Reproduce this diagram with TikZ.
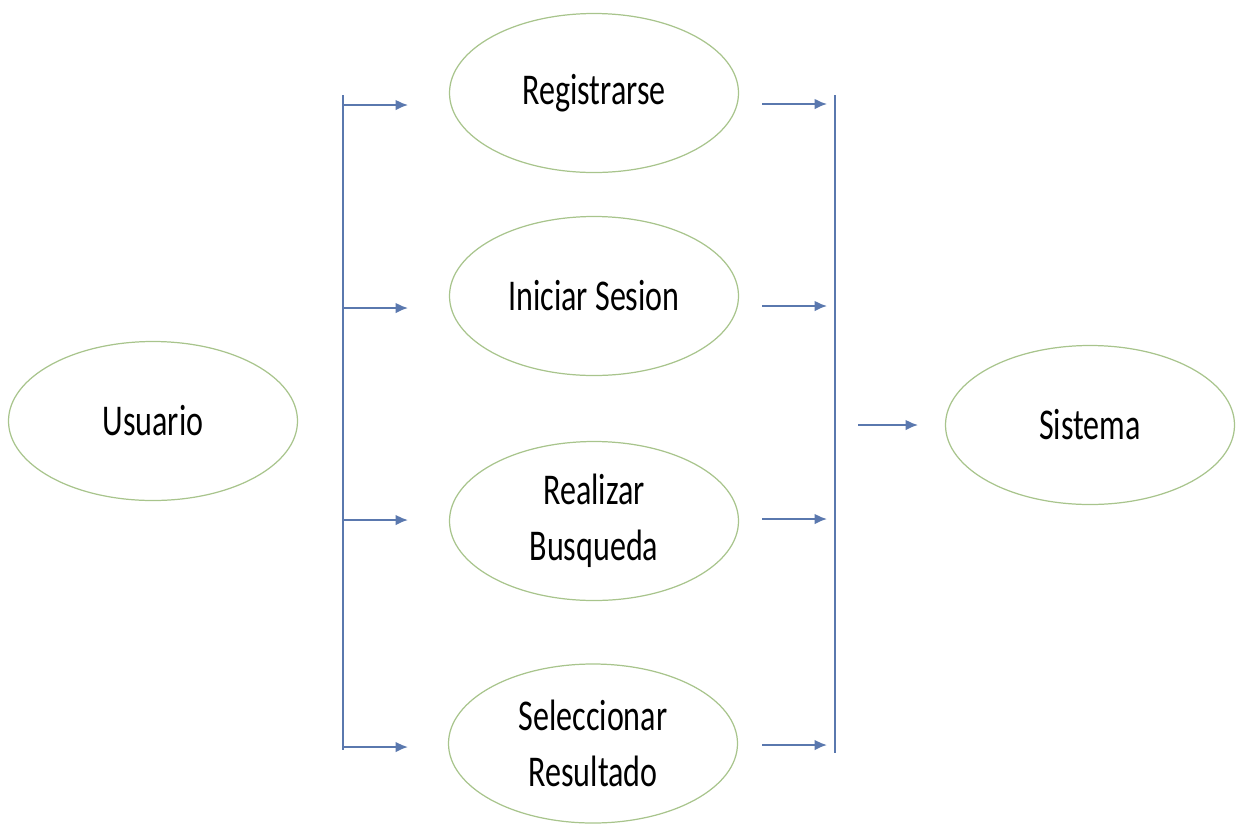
\documentclass[tikz,border=0pt]{standalone}
\usepackage{fontspec}
\setmainfont[FakeStretch=0.73]{Carlito}
\usetikzlibrary{shapes.geometric}
\usetikzlibrary{arrows.meta}
\definecolor{ovalgreen}{HTML}{A8C48C}
\definecolor{flowblue}{HTML}{5A78AE}
\tikzset{
    usecase/.style = {ellipse, draw=ovalgreen, line width=0.7pt, align=center, minimum width=5.78cm, minimum height=3.18cm, inner sep=0pt, font=\fontsize{25}{32}\selectfont},
    flow/.style = {-{Latex[length=7pt,width=6pt]}, line width=1.1pt, flowblue},
    bar/.style = {line width=0.9pt, flowblue}
}
\begin{document}
\begin{tikzpicture}
  \useasboundingbox (0,0) rectangle (24.76,-16.5);
  % actors
  \node[usecase] (usuario) at (3.06,-8.42) {Usuario};
  \node[usecase] (sistema) at (21.8,-8.5) {Sistema};
  % use cases
  \node[usecase] (registro) at (11.88,-1.86) {Registrarse};
  \node[usecase] (sesion) at (11.88,-5.92) {Iniciar Sesion};
  \node[usecase] (busqueda) at (11.88,-10.42) {Realizar\\Busqueda};
  \node[usecase] (resultado) at (11.86,-14.87) {Seleccionar\\Resultado};
  % bars
  \coordinate (ltop) at (6.86,-1.9);
  \coordinate (lbot) at (6.86,-15.0);
  \coordinate (rtop) at (16.7,-1.9);
  \coordinate (rbot) at (16.7,-15.06);
  \draw[bar] (ltop) -- (lbot);
  \draw[bar] (rtop) -- (rbot);
  % arrows into the use cases
  \foreach \y [count=\i] in {-2.1,-6.16,-10.4,-14.94}{
    \coordinate (lin\i) at (6.86,\y);
    \coordinate (lend\i) at (8.16,\y);
    \draw[flow] (lin\i) -- (lend\i);
  }
  % arrows out of the use cases
  \foreach \y [count=\i] in {-2.08,-6.12,-10.38,-14.9}{
    \coordinate (rin\i) at (15.24,\y);
    \coordinate (rend\i) at (16.54,\y);
    \draw[flow] (rin\i) -- (rend\i);
  }
  \coordinate (sin) at (17.16,-8.5);
  \coordinate (send) at (18.36,-8.5);
  \draw[flow] (sin) -- (send);
\end{tikzpicture}
\end{document}
